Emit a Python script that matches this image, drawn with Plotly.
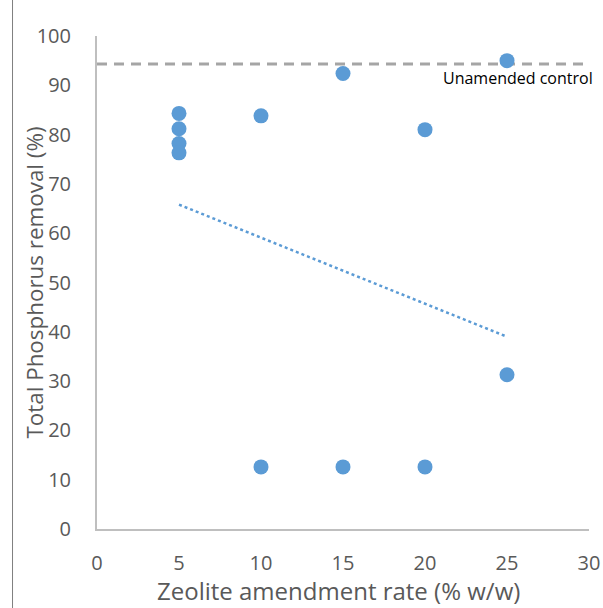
import plotly.graph_objects as go

# Zeolite amendment rate (% w/w) and total phosphorus removal (%)
rate = [5, 5, 5, 5, 10, 10, 15, 15, 20, 20, 25, 25]
tp_removal = [84.3, 81.2, 78.2, 76.3, 83.8, 12.6, 92.4, 12.6, 81.0, 12.6, 95.0, 31.3]

# Linear trendline end points
trend_x = [5, 25]
trend_y = [65.8, 39.0]

# Unamended control reference level
control_level = 94.3
control_x = [0, 30]

x_ticks = [0, 5, 10, 15, 20, 25, 30]
y_ticks = [0, 10, 20, 30, 40, 50, 60, 70, 80, 90, 100]

blue = "#5b9bd5"
gray_text = "#595959"
axis_gray = "#bfbfbf"
font_family = "Open Sans, Liberation Sans, sans-serif"

fig = go.Figure()

fig.add_trace(go.Scatter(
    x=control_x, y=[control_level, control_level], mode="lines",
    line=dict(color="#a5a5a5", width=3, dash="10px,7px"),
    hoverinfo="skip", showlegend=False,
))

fig.add_trace(go.Scatter(
    x=trend_x, y=trend_y, mode="lines",
    line=dict(color=blue, width=2.5, dash="dot"),
    showlegend=False,
))

fig.add_trace(go.Scatter(
    x=rate, y=tp_removal, mode="markers",
    marker=dict(color=blue, size=15, line=dict(width=0)),
    showlegend=False,
))

fig.add_annotation(
    x=30, y=control_level, xref="x", yref="y",
    text="Unamended control", showarrow=False,
    xanchor="right", yanchor="top", yshift=-1, xshift=6,
    font=dict(family=font_family, size=16, color="#000000"),
)

# axis titles placed as paper annotations
fig.add_annotation(
    x=0.49, y=-0.124, xref="paper", yref="paper",
    text="Zeolite amendment rate (% w/w)", showarrow=False,
    xanchor="center", yanchor="middle",
    font=dict(family=font_family, size=24, color=gray_text),
)
fig.add_annotation(
    x=-0.128, y=0.5, xref="paper", yref="paper",
    text="Total Phosphorus removal (%)", showarrow=False, textangle=-90,
    xanchor="center", yanchor="middle",
    font=dict(family=font_family, size=22.4, color=gray_text),
)

# thin frame line on the left page edge
fig.add_shape(
    type="line", xref="paper", yref="paper",
    x0=-0.1717, x1=-0.1717, y0=-0.2, y1=1.1,
    line=dict(color="#7f7f7f", width=1),
)

fig.update_layout(
    width=603, height=608,
    margin=dict(l=97, r=14, t=36, b=79),
    plot_bgcolor="white", paper_bgcolor="white",
    font=dict(family=font_family, color=gray_text),
    xaxis=dict(
        range=[0, 30], tickvals=x_ticks, showgrid=False, zeroline=False,
        showline=True, linecolor=axis_gray, linewidth=2, automargin=False,
        ticks="outside", ticklen=15, tickcolor="rgba(0,0,0,0)",
        tickfont=dict(size=20, color=gray_text),
    ),
    yaxis=dict(
        range=[0, 100], tickvals=y_ticks, showgrid=False, zeroline=False,
        showline=True, linecolor=axis_gray, linewidth=2, automargin=False,
        ticks="outside", ticklen=20, tickcolor="rgba(0,0,0,0)",
        tickfont=dict(size=20, color=gray_text),
    ),
)

fig.write_html("out.html")
